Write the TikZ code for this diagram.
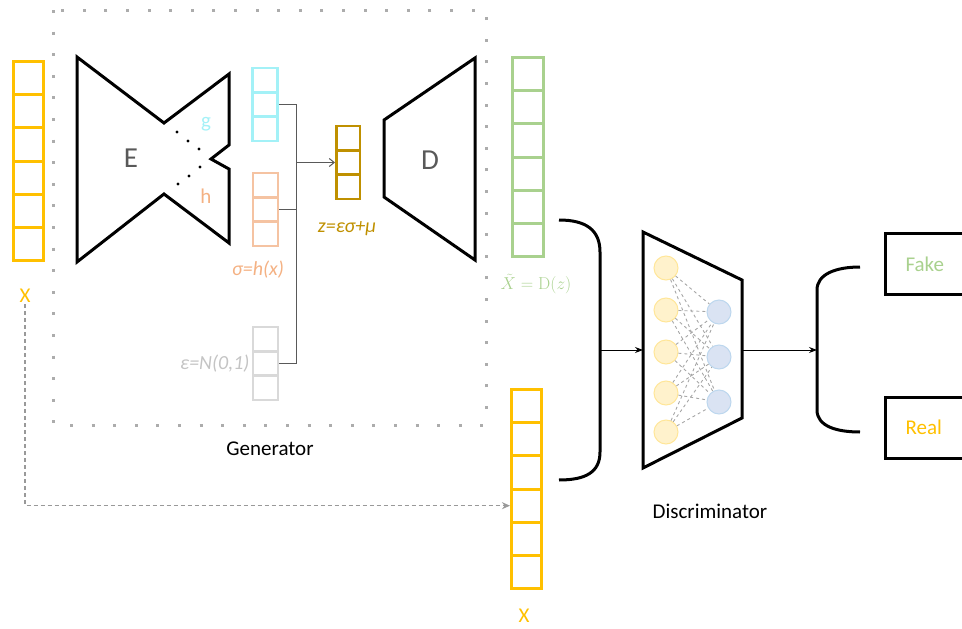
\documentclass[tikz,border=0pt]{standalone}
\usepackage[no-math]{fontspec}
\setmainfont{Carlito}
\usetikzlibrary{arrows.meta,positioning}

\definecolor{xorange}{HTML}{FFC000}
\definecolor{xcyan}{HTML}{A3F1F7}
\definecolor{xsalmon}{HTML}{F5C3A2}
\definecolor{xsalmontext}{HTML}{F4B183}
\definecolor{xgray}{HTML}{D9D9D9}
\definecolor{xgraytext}{HTML}{C4C4C4}
\definecolor{xgold}{HTML}{BF9000}
\definecolor{xgreen}{HTML}{A9D18E}
\definecolor{xdark}{HTML}{595959}
\definecolor{yfill}{HTML}{FFF2CC}
\definecolor{ydraw}{HTML}{FFE699}
\definecolor{bfill}{HTML}{DAE3F3}
\definecolor{bdraw}{HTML}{BDD7EE}

\begin{document}
\begin{tikzpicture}[x=1pt,y=-1pt,>={Stealth[length=8pt,width=6pt]},line width=1pt,
  bigcell/.style={draw,line width=3pt,minimum width=30pt,minimum height=33.2pt,inner sep=0pt},
  smallcell/.style={draw,line width=2.5pt,minimum width=25pt,minimum height=24.2pt,inner sep=0pt},
  lab/.style={font=\fontsize{21}{24}\selectfont,inner sep=1pt},
  itlab/.style={font=\fontsize{20}{24}\selectfont\itshape,inner sep=1pt},
  big/.style={font=\fontsize{29}{32}\selectfont,text=xdark},
  thick3/.style={line width=3pt,line join=miter},
  neuron/.style={circle,minimum size=24pt,inner sep=0pt,line width=1pt},
  outbox/.style={draw,line width=3pt,anchor=west,minimum height=61pt,text width=80pt,inner xsep=20pt,font=\fontsize{21}{24}\selectfont}]
\useasboundingbox (0,0) rectangle (962,629);

% generator frame
\draw[gray!65,line width=3pt,dash pattern=on 3pt off 18.6pt] (53,10) rectangle (486,425);
\node[lab] (gen) at (270,449) {Generator};

% input x
\foreach \i in {1,...,6}
  \node[bigcell,draw=xorange] (xa\i) at (28.5,{78.1+33.2*(\i-1)}) {};
\node[lab,text=xorange] (xl) at (25,296) {X};

% encoder
\draw[thick3] (77,57) -- (164,123) -- (229,74) -- (229,145) -- (211,159) -- (229,169)
  -- (229,243) -- (164,194) -- (77,262) -- cycle;
\foreach \p in {(177,132),(188,141),(199,149),(200,167),(189,176),(178,184)}
  \fill \p circle (1.6);
\node[big] (elab) at (131,158) {E};
\node[lab,text=xcyan] (gl) at (206,124) {g};
\node[lab,text=xsalmontext] (hl) at (206,196) {h};

% latent stacks
\foreach \i in {1,2,3} {
  \node[smallcell,draw=xcyan] (cy\i) at (265,{80.3+24.2*(\i-1)}) {};
  \node[smallcell,draw=xsalmon] (sa\i) at (265.5,{185.3+24.2*(\i-1)}) {};
  \node[smallcell,draw=xgray] (gr\i) at (265.5,{339.3+24.2*(\i-1)}) {};
  \node[smallcell,draw=xgold,minimum width=23.5pt] (z\i) at (348,{138.3+24.2*(\i-1)}) {};
}
\node[itlab,text=xsalmontext] (sl) at (258,270) {σ=h(x)};
\node[itlab,text=xgraytext,anchor=east] (el) at (251,364) {ε=N(0,1)};
\node[itlab,text=xgold] (zl) at (347,229) {z=εσ+μ};

\coordinate (jn) at (296,162.5);
\draw[xdark] (cy2.east) -| (jn);
\draw[xdark] (sa2.east) -| (jn);
\draw[xdark] (gr2.east) -| (jn);
\draw[xdark,->,>={Straight Barb[length=5pt,width=8pt]}] (jn) -- (z2.west);

% decoder
\draw[thick3] (384,120) -- (475,58) -- (475,260) -- (384,197) -- cycle;
\node[big] (dlab) at (430,160) {D};

% reconstruction
\foreach \i in {1,...,6}
  \node[bigcell,draw=xgreen,minimum width=31pt] (xg\i) at (528,{74.1+33.2*(\i-1)}) {};
\node[text=xgreen,font=\fontsize{18}{20}\selectfont,inner sep=1pt] (xgl) at (536,284) {$\tilde{X}=\mathrm{D}(z)$};

% real sample
\foreach \i in {1,...,6}
  \node[bigcell,draw=xorange] (xb\i) at (526.5,{406.1+33.2*(\i-1)}) {};
\node[lab,text=xorange] (xbl) at (524,616) {X};
\draw[gray!80,line width=1.3pt,dash pattern=on 4pt off 3pt,->,>={Stealth[length=8pt,width=7pt]}]
  (xl.south) |- (xb4.west);

% join into discriminator
\draw[line width=3pt] (559,220) .. controls (586,220) and (600,230) .. (600,252)
  -- (600,452) .. controls (600,472) and (586,480) .. (559,480);
\coordinate (bl) at (600,350);
\coordinate (din) at (643,350);
\coordinate (dout) at (742,350);
\draw[->] (bl) -- (din);

% discriminator
\draw[thick3] (643,232) -- (742,280) -- (742,418) -- (643,468) -- cycle;
\foreach \i/\y in {1/268,2/310,3/352,4/393,5/432}
  \node[neuron,fill=yfill,draw=ydraw] (y\i) at (666,\y) {};
\foreach \j/\y in {1/312,2/357,3/402}
  \node[neuron,fill=bfill,draw=bdraw] (b\j) at (719,\y) {};
\foreach \i in {1,...,5}
  \foreach \j in {1,2,3}
    \draw[gray!70,dashed,line width=0.9pt] (y\i) -- (b\j);
\node[lab] (disc) at (710,511) {Discriminator};

% decision
\coordinate (rb) at (817,350);
\draw[->] (dout) -- (rb);
\draw[line width=3pt] (860,267) .. controls (836,267) and (817,274) .. (817,290)
  -- (817,410) .. controls (817,426) and (836,432) .. (860,432);
\node[outbox,text=xgreen] (fake) at (884,264) {Fake};
\node[outbox,text=xorange] (real) at (884,427.5) {Real};
\end{tikzpicture}
\end{document}
